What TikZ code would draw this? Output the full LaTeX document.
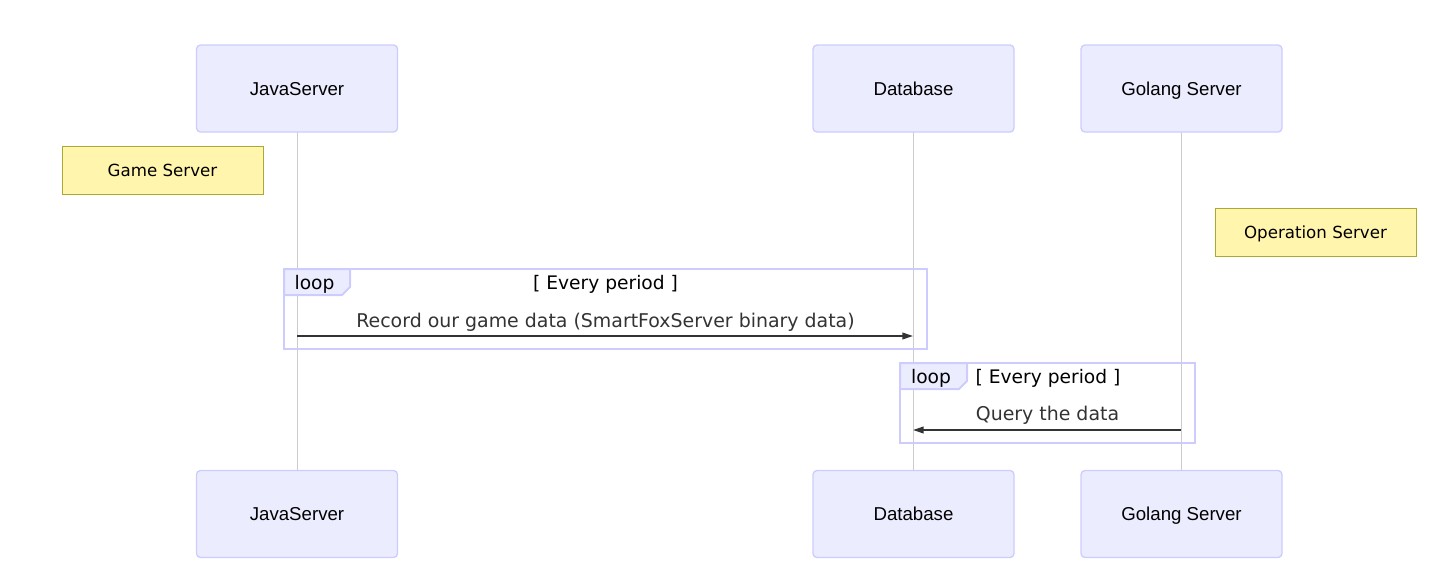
\documentclass[tikz,border=0pt]{standalone}
\usepackage{fontspec}
\setmainfont{Liberation Sans}
\newfontfamily\msgfont{DejaVu Sans}
\usetikzlibrary{arrows.meta}
\definecolor{actfill}{HTML}{ECECFF}
\definecolor{actline}{HTML}{CCCCFF}
\definecolor{notefill}{HTML}{FFF5AD}
\definecolor{noteline}{HTML}{AAAA33}
\definecolor{lifeline}{HTML}{CCCCCC}
\definecolor{msgcol}{HTML}{333333}
\tikzset{
  actor/.style={draw=actline, fill=actfill, line width=1pt, rounded corners=3pt,
    minimum width=150.75pt, minimum height=65.25pt, inner sep=0pt,
    text height=11pt, text depth=1.2pt,
    font=\fontsize{14}{16}\selectfont, text=black},
  note/.style={draw=noteline, fill=notefill, line width=0.75pt,
    minimum width=150.75pt, minimum height=36pt, inner sep=0pt,
    text height=11pt, text depth=1pt,
    font=\msgfont\fontsize{12.5}{15}\selectfont, text=black},
  life/.style={draw=lifeline, line width=0.75pt},
  loopbox/.style={draw=actline, line width=1.5pt},
  looptab/.style={draw=actline, fill=actfill, line width=1.5pt},
  looptxt/.style={font=\msgfont\fontsize{14}{16}\selectfont, text=black, inner sep=0pt,
    text height=12pt, text depth=1pt},
  msgtxt/.style={font=\msgfont\fontsize{14.2}{16}\selectfont, text=msgcol, inner sep=0pt,
    text height=12pt, text depth=1pt},
  msg/.style={draw=msgcol, line width=1.3pt, -{Triangle[length=8pt,width=5pt]}},
}
\begin{document}
\begin{tikzpicture}[x=0.75pt,y=-0.75pt]
\useasboundingbox (0,0) rectangle (1453,582);
% lifelines (behind)
\coordinate (jt) at (297,132); \coordinate (jb) at (297,471);
\coordinate (dt) at (913,132); \coordinate (db) at (913,471);
\coordinate (gt) at (1181,132); \coordinate (gb) at (1181,471);
\draw[life] (jt) -- (jb);
\draw[life] (dt) -- (db);
\draw[life] (gt) -- (gb);
% actors
\node[actor] (java) at (297,88.5) {JavaServer};
\node[actor] (db1) at (913.5,88.5) {Database};
\node[actor] (go) at (1181.5,88.5) {Golang Server};
\node[actor] (java2) at (297,514) {JavaServer};
\node[actor] (db2) at (913.5,514) {Database};
\node[actor] (go2) at (1181.5,514) {Golang Server};
% notes
\node[note] (n1) at (162.5,170) {Game Server};
\node[note] (n2) at (1315.5,232) {Operation Server};
% loop 1
\draw[loopbox] (284,269) rectangle (927,349);
\draw[looptab] (284,269) -- (350,269) -- (350,287) -- (342,295) -- (284,295) -- cycle;
\node[looptxt] (l1) at (314.5,282) {loop};
\node[looptxt] (c1) at (605.5,282) {[ Every period ]};
% message 1
\coordinate (m1s) at (297,336); \coordinate (m1e) at (913,336);
\node[msgtxt] (t1) at (605.5,320) {Record our game data (SmartFoxServer binary data)};
\draw[msg] (m1s) -- (m1e);
% loop 2
\draw[loopbox] (900,363) rectangle (1195,443);
\draw[looptab] (900,363) -- (967,363) -- (967,381) -- (959,389) -- (900,389) -- cycle;
\node[looptxt] (l2) at (931,376) {loop};
\node[looptxt] (c2) at (1048,376) {[ Every period ]};
% message 2
\coordinate (m2s) at (1181,430); \coordinate (m2e) at (913,430);
\node[msgtxt] (t2) at (1047.5,413) {Query the data};
\draw[msg] (m2s) -- (m2e);
\end{tikzpicture}
\end{document}
